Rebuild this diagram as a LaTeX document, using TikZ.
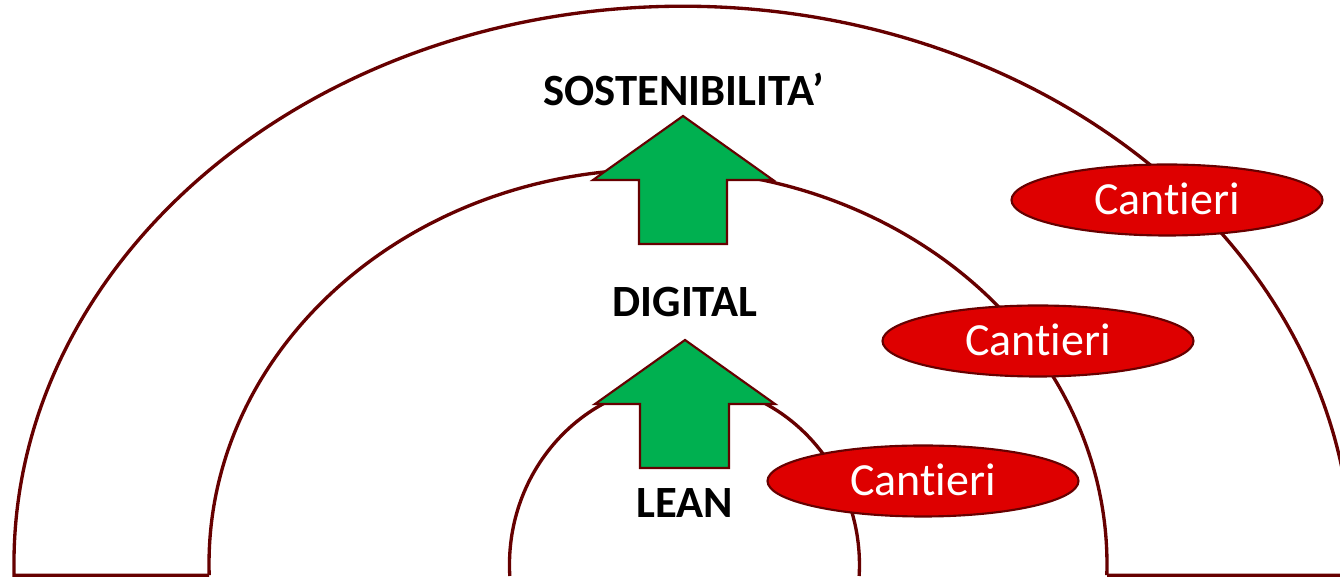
\documentclass[tikz,border=0pt]{standalone}
\usepackage{fontspec}
\setmainfont{Carlito}[Ligatures={NoCommon,NoRare,NoContextual}]
\definecolor{arcred}{RGB}{102,0,0}
\definecolor{cantred}{RGB}{222,0,0}
\definecolor{arrgreen}{RGB}{0,176,80}
\usetikzlibrary{shapes.geometric}
\begin{document}
\begin{tikzpicture}[x=0.75pt,y=0.75pt,
  arcline/.style={draw=arcred,line width=2.5pt,line join=miter},
  uparrow/.style={draw=arcred,fill=arrgreen,line width=1.6pt,line join=miter},
  site/.style={ellipse,draw=arcred,fill=cantred,line width=1.6pt,
    minimum width=233.25pt,minimum height=53.25pt,inner sep=0pt,
    text=white,font=\fontsize{34.5}{41}\selectfont,text height=22.2pt,text depth=0pt},
  level/.style={anchor=base,inner sep=0pt,font=\fontsize{33.5}{40}\selectfont\bfseries}]
\useasboundingbox (0,0) rectangle (1340,577);
% outer band
\draw[arcline] (209.2,1.8) -- (14.1,1.8)
  arc[start angle=181.13,end angle=-1.13,x radius=501.75pt,y radius=418.5pt]
  -- (1107,1.8);
% middle arc
\draw[arcline] (209.2,1.8)
  arc[start angle=181.6,end angle=-1.6,x radius=336.75pt,y radius=296.25pt];
% inner arc
\draw[arcline] (509.8,1)
  arc[start angle=183.46,end angle=-3.46,x radius=131.25pt,y radius=136.5pt];
% arrows
\draw[uparrow] (639,333) -- (639,397) -- (593,397) -- (683,461) -- (773,397) -- (727,397) -- (727,333) -- cycle;
\draw[uparrow] (640,109) -- (640,173) -- (595,173) -- (685,237) -- (775,173) -- (729,173) -- (729,109) -- cycle;
% sites
\node[site] (c1) at (1167,377) {Cantieri};
\node[site] (c2) at (1038,236) {Cantieri};
\node[site] (c3) at (923,96) {Cantieri};
% levels
\node[level] (sost) at (683.5,471) {SOSTENIBILITA’};
\node[level] (digital) at (685,260) {DIGITAL};
\node[level] (lean) at (684.5,59) {LEAN};
\end{tikzpicture}
\end{document}
